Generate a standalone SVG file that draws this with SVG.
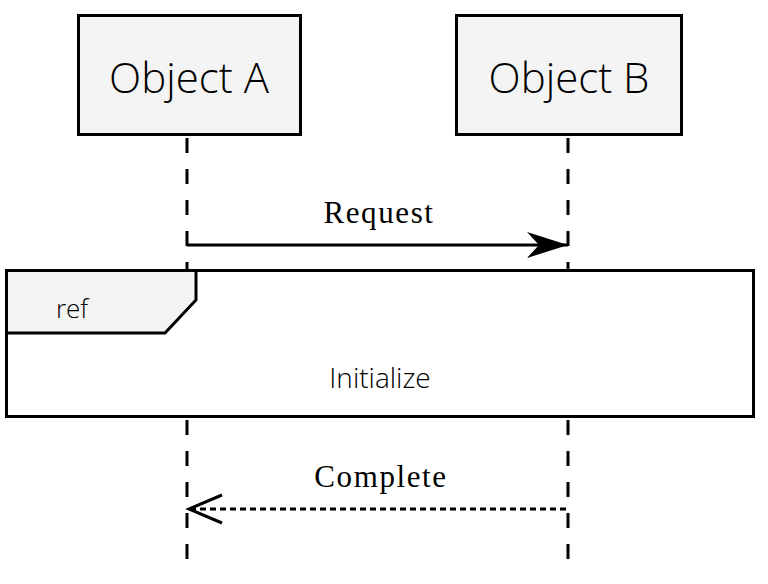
<svg xmlns="http://www.w3.org/2000/svg" width="768" height="584" viewBox="0 0 768 584">
<style>
.box{fill:#f4f4f4;stroke:#000;stroke-width:3}
.life{stroke:#000;stroke-width:3;stroke-dasharray:15 16;fill:none}
.sans{font-family:"Open Sans","Noto Sans",sans-serif;font-weight:300;fill:#000}
.serif{font-family:"Liberation Serif","DejaVu Serif",serif;fill:#000;letter-spacing:1.6px}
</style>
<defs>
<marker id="filled" markerWidth="42" markerHeight="26" refX="41" refY="13" orient="auto" markerUnits="userSpaceOnUse">
<path d="M0,0 L41,13 L0,26 L12,13 Z" fill="#000"/>
</marker>
<marker id="open" markerWidth="40" markerHeight="34" refX="35" refY="17" orient="auto" markerUnits="userSpaceOnUse">
<path d="M2,3 L35,17 L2,31" fill="none" stroke="#000" stroke-width="3"/>
</marker>
</defs>
<rect width="768" height="584" fill="#fff"/>
<g id="lifelines">
<line class="life" x1="187" y1="138" x2="187" y2="270"/>
<line class="life" x1="568" y1="138" x2="568" y2="270"/>
<line class="life" x1="187" y1="420" x2="187" y2="560"/>
<line class="life" x1="568" y1="420" x2="568" y2="560"/>
</g>
<g id="objA">
<rect class="box" x="78.5" y="15.5" width="222" height="119"/>
<text class="sans" x="189" y="93" font-size="42" text-anchor="middle">Object A</text>
</g>
<g id="objB">
<rect class="box" x="456.5" y="15.5" width="225" height="119"/>
<text class="sans" x="569" y="93" font-size="42" text-anchor="middle">Object B</text>
</g>
<g id="ref">
<rect x="6.5" y="270.5" width="747" height="146" fill="#fff" stroke="#000" stroke-width="3"/>
<path d="M6.5,270.5 L196,270.5 L196,300 L165,333 L6.5,333 Z" fill="#f4f4f4" stroke="#000" stroke-width="3"/>
<text class="sans" x="72" y="318" font-size="26" text-anchor="middle">ref</text>
<text class="sans" x="380" y="388" font-size="28" text-anchor="middle">Initialize</text>
</g>
<g id="connectors">
<line x1="187" y1="245" x2="568" y2="245" stroke="#000" stroke-width="3" marker-end="url(#filled)"/>
<text class="serif" x="379" y="223" font-size="31" text-anchor="middle">Request</text>
<line x1="566" y1="509" x2="189" y2="509" stroke="#000" stroke-width="3" stroke-dasharray="6 4" marker-end="url(#open)"/>
<text class="serif" x="381" y="487" font-size="31" text-anchor="middle">Complete</text>
</g>
</svg>
